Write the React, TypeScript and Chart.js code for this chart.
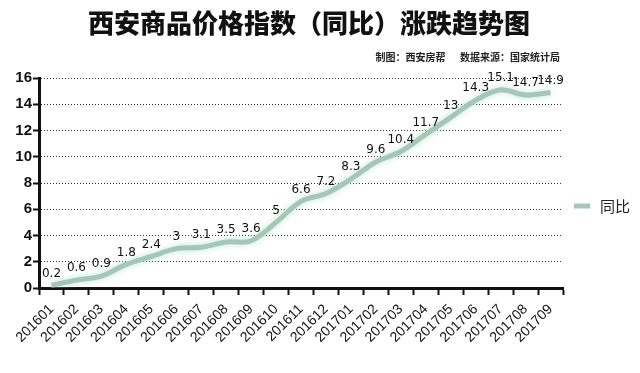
import React, { useEffect, useRef } from "react";
import { Chart, registerables } from "chart.js";

Chart.register(...registerables);

const TITLE = "西安商品价格指数（同比）涨跌趋势图";
const SUBTITLE = "制图：西安房帮　  数据来源：国家统计局";
const SERIES_NAME = "同比";
const MONTHS = [
  "201601", "201602", "201603", "201604", "201605", "201606", "201607",
  "201608", "201609", "201610", "201611", "201612", "201701", "201702",
  "201703", "201704", "201705", "201706", "201707", "201708", "201709",
];
const VALUES = [
  0.2, 0.6, 0.9, 1.8, 2.4, 3, 3.1, 3.5, 3.6, 5, 6.6, 7.2, 8.3, 9.6, 10.4,
  11.7, 13, 14.3, 15.1, 14.7, 14.9,
];
const Y_MIN = 0;
const Y_MAX = 16;

const LINE_COLOR = "#a7c6ba";

const decorPlugin = {
  id: "decor",
  beforeDatasetDraw(chart: any) {
    const ctx = chart.ctx;
    ctx.save();
    ctx.shadowColor = "rgba(170,225,205,0.8)";
    ctx.shadowBlur = 6;
  },
  afterDatasetDraw(chart: any) {
    chart.ctx.restore();
  },
  afterDatasetsDraw(chart: any) {
    const ctx = chart.ctx;
    const meta = chart.getDatasetMeta(0);
    ctx.save();
    ctx.fillStyle = "#111";
    ctx.font = "12px 'DejaVu Sans', sans-serif";
    ctx.textAlign = "center";
    ctx.textBaseline = "bottom";
    meta.data.forEach((pt: any, i: number) => {
      ctx.fillText(String(VALUES[i]), pt.x, pt.y - 6);
    });
    ctx.restore();
  },
  afterDraw(chart: any) {
    const ctx = chart.ctx;
    const area = chart.chartArea;
    ctx.save();
    // title
    ctx.fillStyle = "#111";
    ctx.font = "900 26px 'Noto Sans CJK SC', sans-serif";
    ctx.textAlign = "center";
    ctx.textBaseline = "middle";
    ctx.fillText(TITLE, 309, 23);
    // subtitle
    ctx.font = "bold 10px 'Noto Sans CJK SC', sans-serif";
    ctx.fillStyle = "#222";
    ctx.textAlign = "right";
    ctx.fillText(SUBTITLE, area.right - 3, 57);
    // legend
    const ly = 206;
    const lx = area.right + 11;
    ctx.strokeStyle = LINE_COLOR;
    ctx.lineWidth = 5;
    ctx.lineCap = "butt";
    ctx.beginPath();
    ctx.moveTo(lx, ly);
    ctx.lineTo(lx + 16, ly);
    ctx.stroke();
    ctx.fillStyle = "#222";
    ctx.font = "15px 'Noto Sans CJK SC', sans-serif";
    ctx.textAlign = "left";
    ctx.textBaseline = "middle";
    ctx.fillText(SERIES_NAME, lx + 26, ly);
    ctx.restore();
  },
};

export default function App() {
  const ref = useRef<HTMLCanvasElement>(null);
  useEffect(() => {
    document.body.style.margin = "0";
    const chart = new Chart(ref.current!, {
      type: "line",
      data: {
        labels: MONTHS,
        datasets: [
          {
            label: SERIES_NAME,
            data: VALUES,
            borderColor: LINE_COLOR,
            borderWidth: 5,
            pointRadius: 0,
            tension: 0.35,
            fill: false,
          },
        ],
      },
      options: {
        animation: false,
        responsive: false,
        layout: { padding: { top: 78, right: 77, left: 0, bottom: 0 } },
        plugins: {
          legend: { display: false },
          tooltip: { enabled: false },
        },
        scales: {
          x: {
            type: "category",
            offset: true,
            afterFit: (s: any) => {
              s.height = 85;
            },
            grid: {
              offset: true,
              drawOnChartArea: false,
              drawTicks: true,
              tickLength: 7,
              tickColor: "#111",
              tickWidth: 2,
            },
            border: { display: true, color: "#111", width: 3 },
            ticks: {
              autoSkip: false,
              maxRotation: 45,
              minRotation: 45,
              color: "#111",
              padding: 6,
              font: { size: 14, family: "'Liberation Sans', Arial, sans-serif" },
            },
          },
          y: {
            min: Y_MIN,
            max: Y_MAX,
            afterFit: (s: any) => {
              s.width = 39;
            },
            grid: {
              color: (c: any) => (c.tick && c.tick.value === 0 ? "rgba(0,0,0,0)" : "#333"),
              lineWidth: 1,
              drawTicks: true,
              tickLength: 6,
              tickWidth: 2,
              tickColor: (c: any) =>
                c.tick && c.tick.value % 2 === 0 ? "#111" : "rgba(0,0,0,0)",
              tickBorderDash: [],
            },
            border: { display: true, color: "#111", width: 3, dash: [1, 2] },
            ticks: {
              stepSize: 1,
              color: "#111",
              padding: 1,
              font: { size: 15, weight: "bold", family: "'Liberation Sans', Arial, sans-serif" },
              callback: (v: any) => (Number(v) % 2 === 0 ? String(v) : ""),
            },
          },
        },
      },
      plugins: [decorPlugin],
    } as any);
    return () => chart.destroy();
  }, []);
  return (
    <div style={{ width: 640, height: 373, background: "#fff" }}>
      <canvas ref={ref} width={640} height={373} />
    </div>
  );
}
